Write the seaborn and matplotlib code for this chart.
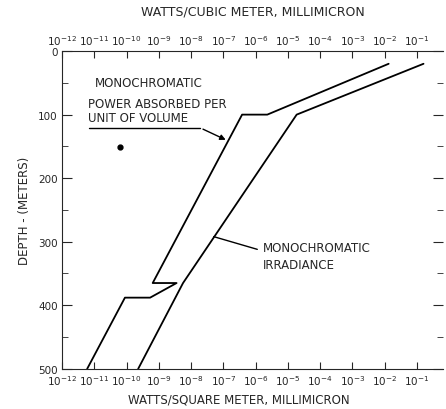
import numpy as np
import pandas as pd
import seaborn as sns
import matplotlib.pyplot as plt
from matplotlib.ticker import FixedLocator, NullLocator

# decade exponents (log10 of watts) and depth in meters
absorbed_exp = [-1.88, -5.64, -6.42, -9.19, -8.45, -9.27, -10.05, -11.22]
absorbed_depth = [20, 100, 100, 365, 365, 388, 388, 500]

irradiance_exp = [-0.80, -4.73, -8.25, -9.64]
irradiance_depth = [20, 100, 365, 500]

decades = list(range(-12, 0))
tick_labels = [r"$10^{%d}$" % d for d in decades]
depth_ticks = [0, 100, 200, 300, 400, 500]

absorbed = pd.DataFrame({"watts": np.power(10.0, absorbed_exp), "depth": absorbed_depth})
irradiance = pd.DataFrame({"watts": np.power(10.0, irradiance_exp), "depth": irradiance_depth})

sns.set_style("ticks")
plt.rcParams["font.family"] = ["DejaVu Sans"]
plt.rcParams["mathtext.fontset"] = "dejavusans"

fig = plt.figure(figsize=(4.46, 4.10), dpi=100)
ax = fig.add_axes([0.139, 0.098, 0.854, 0.775])

sns.lineplot(data=absorbed, x="watts", y="depth", sort=False, estimator=None,
             color="black", linewidth=1.3, ax=ax)
sns.lineplot(data=irradiance, x="watts", y="depth", sort=False, estimator=None,
             color="black", linewidth=1.3, ax=ax)

ax.set_xscale("log")
ax.set_xlim(1e-12, 10 ** -0.2)
ax.set_ylim(500, 0)

ax.xaxis.set_major_locator(FixedLocator([10.0 ** d for d in decades]))
ax.xaxis.set_minor_locator(NullLocator())
ax.set_xticklabels(tick_labels)
ax.set_yticks(depth_ticks)
ax.set_yticks([50, 150, 250, 350, 450], minor=True)
ax.tick_params(axis="both", which="both", direction="in", labelsize=7.5, pad=3)
ax.tick_params(axis="y", which="major", length=7, right=True)
ax.tick_params(axis="y", which="minor", length=4, right=True)
ax.tick_params(axis="x", which="major", length=5)
ax.spines["right"].set_visible(False)
for s in ["left", "top", "bottom"]:
    ax.spines[s].set_linewidth(0.7)
    ax.spines[s].set_color("#555555")

ax.set_xlabel("WATTS/SQUARE METER, MILLIMICRON", fontsize=8.5)
ax.xaxis.set_label_coords(0.465, -0.075)
ax.set_ylabel("DEPTH - (METERS)", fontsize=8.5, labelpad=5)

top = ax.twiny()
top.set_xscale("log")
top.set_xlim(ax.get_xlim())
top.xaxis.set_major_locator(FixedLocator([10.0 ** d for d in decades]))
top.xaxis.set_minor_locator(NullLocator())
top.set_xticklabels(tick_labels)
top.tick_params(axis="x", direction="in", length=5, labelsize=7.5, pad=3)
top.spines["right"].set_visible(False)
top.set_xlabel("WATTS/CUBIC METER, MILLIMICRON", fontsize=9)
top.xaxis.set_label_coords(0.5, 1.116)

# annotations
ax.text(10 ** -10.98, 50, "MONOCHROMATIC", fontsize=8.5, va="center")
ax.text(10 ** -11.19, 83, "POWER ABSORBED PER", fontsize=8.5, va="center")
ax.text(10 ** -11.19, 104, "UNIT OF VOLUME", fontsize=8.5, va="center")
ax.plot([10 ** -11.16, 10 ** -7.71], [121, 121], color="black", linewidth=1)
ax.annotate("", xy=(10 ** -6.85, 141.5), xytext=(10 ** -7.71, 121),
            arrowprops=dict(arrowstyle="-|>", color="black", lw=1, mutation_scale=8))
ax.plot([10 ** -10.2], [151], marker="o", color="black", markersize=3.5)

ax.text(10 ** -5.79, 322, "MONOCHROMATIC\nIRRADIANCE", fontsize=8.5, va="center",
        linespacing=1.4)
ax.plot([10 ** -5.95, 10 ** -7.3], [312, 292], color="black", linewidth=1)

fig.savefig("out.png", dpi=100)
